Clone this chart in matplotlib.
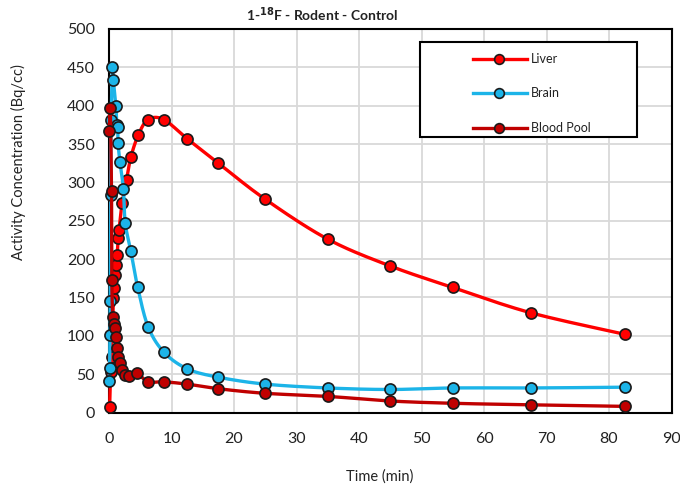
import numpy as np
import matplotlib
matplotlib.use("Agg")
import matplotlib.pyplot as plt
from matplotlib.lines import Line2D
from matplotlib.patches import Rectangle

# ---- data ----
liver_t = [0.1, 0.25, 0.4, 0.7, 0.85, 1.0, 1.15, 1.3, 1.45, 1.6, 2.1, 2.8, 3.5, 4.7,
           6.25, 8.75, 12.5, 17.5, 25, 35, 45, 55, 67.5, 82.5]
liver_v = [7, 53, 73, 149, 162, 179, 192, 205, 227, 238, 273, 303, 333, 362,
           382, 382, 357, 325, 278, 226, 191, 163, 130, 102]

brain_t = [0.05, 0.1, 0.15, 0.2, 0.25, 0.35, 0.55, 0.7, 1.1, 1.25, 1.4, 1.45, 1.75,
           2.3, 2.6, 3.5, 4.6, 6.25, 8.75, 12.5, 17.5, 25, 35, 45, 55, 67.5, 82.5]
brain_v = [41, 58, 101, 145, 284, 381, 451, 433, 400, 375, 372, 351, 327,
           292, 247, 210, 163, 112, 79, 57, 46, 37, 32, 30, 32, 32, 33]

blood_t = [0.05, 0.2, 0.4, 0.45, 0.6, 0.75, 0.9, 1.05, 1.3, 1.5, 1.75, 2.0, 2.5,
           3.25, 4.5, 6.25, 8.75, 12.5, 17.5, 25, 35, 45, 55, 67.5, 82.5]
blood_v = [367, 397, 289, 173, 125, 115, 110, 99, 84, 73, 64, 55, 49,
           47, 51, 40, 40, 37, 31, 25, 21, 15, 12, 10, 8]

series_names = ["Liver", "Brain", "Blood Pool"]
line_colors = ["#FF0000", "#1CB4E8", "#C00000"]
title_text = "1-$^{\\mathbf{18}}$F - Rodent - Control"
x_label = "Time (min)"
y_label = "Activity Concentration (Bq/cc)"

plt.rcParams['font.family'] = ['Lato', 'DejaVu Sans']


def smooth(t, v, n=16):
    """Catmull-Rom style smoothing, similar to Excel's smoothed line."""
    p = np.column_stack([t, v]).astype(float)
    if len(p) < 3:
        return p[:, 0], p[:, 1]
    ext = np.vstack([p[0], p, p[-1]])
    out = []
    for i in range(1, len(ext) - 2):
        p0, p1, p2, p3 = ext[i - 1], ext[i], ext[i + 1], ext[i + 2]
        c1 = p1 + (p2 - p0) / 6.0
        c2 = p2 - (p3 - p1) / 6.0
        s = np.linspace(0, 1, n, endpoint=False)[:, None]
        seg = ((1 - s) ** 3) * p1 + 3 * ((1 - s) ** 2) * s * c1 + 3 * (1 - s) * s ** 2 * c2 + s ** 3 * p2
        out.append(seg)
    out.append(p[-1][None, :])
    out = np.vstack(out)
    return out[:, 0], out[:, 1]


fig = plt.figure(figsize=(6.8, 4.9), dpi=100)
ax = fig.add_axes([109 / 680, 1 - 412.5 / 490, (671.5 - 109) / 680, (412.5 - 29) / 490])

data = [(liver_t, liver_v), (brain_t, brain_v), (blood_t, blood_v)]
for k, ((t, v), c) in enumerate(zip(data, line_colors)):
    sx, sy = smooth(t, v)
    ax.plot(sx, sy, color=c, lw=2.4, zorder=3 + k, solid_capstyle='round', clip_on=False)
    ax.plot(t, v, ls='none', marker='o', ms=8, mfc=c, mec='#1a1a1a', mew=1.2,
            zorder=3 + k, clip_on=False)

ax.set_xlim(0, 90)
ax.set_ylim(0, 500)
ax.set_xticks(np.arange(0, 91, 10))
ax.set_yticks(np.arange(0, 501, 50))
ax.grid(True, color='#d9d9d9', lw=1.3)
ax.set_axisbelow(True)
for sp in ax.spines.values():
    sp.set_color('black')
    sp.set_linewidth(1.5)
ax.tick_params(length=0, labelsize=11.5, colors='#222222')
ax.tick_params(axis='x', pad=14)
ax.tick_params(axis='y', pad=10)

fig.text(322 / 680, 1 - 15 / 490, title_text, ha='center', va='center', fontsize=10,
         fontweight='bold', color='#222222')
fig.text(380 / 680, 1 - 477 / 490, x_label, ha='center', va='center', fontsize=10.5, color='#222222')
fig.text(18 / 680, 1 - 162 / 490, y_label, ha='center', va='center', rotation=90,
         fontsize=10.5, color='#222222')

# legend
fig.patches.append(Rectangle((420 / 680, 1 - 137 / 490), (637 - 420) / 680, (137 - 42) / 490,
                             transform=fig.transFigure, fill=True, facecolor='white',
                             edgecolor='black', lw=1.5, zorder=10))
rows_y = [59, 93, 128]
for name, c, ry in zip(series_names, line_colors, rows_y):
    yy = 1 - ry / 490
    fig.lines.append(Line2D([473 / 680, 527 / 680], [yy, yy], transform=fig.transFigure,
                            color=c, lw=2.4, zorder=11))
    fig.lines.append(Line2D([499 / 680], [yy], transform=fig.transFigure, ls='none',
                            marker='o', ms=7, mfc=c, mec='#1a1a1a', mew=1.2, zorder=12))
    fig.text(531 / 680, yy, name, ha='left', va='center', fontsize=9, color='#222222', zorder=12)

fig.savefig("out.png", dpi=100)
